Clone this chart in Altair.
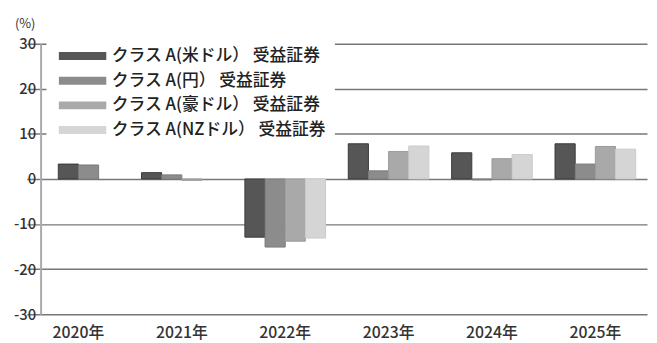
import altair as alt
import pandas as pd

years = ["2020年", "2021年", "2022年", "2023年", "2024年", "2025年"]
series = [
    "クラス A(米ドル） 受益証券",
    "クラス A(円） 受益証券",
    "クラス A(豪ドル） 受益証券",
    "クラス A(NZドル） 受益証券",
]
usd = [3.3, 1.4, -12.9, 7.8, 5.8, 7.8]
jpy = [3.1, 0.9, -15.1, 1.8, -0.2, 3.3]
aud = [None, -0.3, -13.8, 6.1, 4.5, 7.2]
nzd = [None, None, -13.1, 7.3, 5.4, 6.6]

fill_colors = ["#565656", "#8c8c8c", "#a9a9a9", "#d5d5d5"]
stroke_colors = ["#3a3a3a", "#7a7a7a", "#9a9a9a", "#cacaca"]

rows = []
for yi, yr in enumerate(years):
    vals = [usd[yi], jpy[yi], aud[yi], nzd[yi]]
    present = [i for i, v in enumerate(vals) if v is not None]
    shift = (4 - len(present)) // 2 if len(present) == 2 else 0
    for i in present:
        rows.append({"year": yr, "series": series[i], "value": vals[i], "slot": i + shift})
df = pd.DataFrame(rows)

FONT = "Noto Sans CJK JP"

chart = alt.Chart(df).mark_bar(strokeWidth=1).encode(
    x=alt.X(
        "year:N",
        sort=years,
        scale=alt.Scale(range=[-14, 614], paddingInner=0.22, paddingOuter=0.11),
        axis=alt.Axis(title=None, labelAngle=0, ticks=False, domain=False,
                      labelFontSize=16, labelFontWeight=500, labelPadding=11,
                      labelColor="#333", labelFont=FONT),
    ),
    xOffset=alt.XOffset("slot:O", scale=alt.Scale(domain=[0, 1, 2, 3], paddingInner=0, paddingOuter=0)),
    y=alt.Y(
        "value:Q",
        scale=alt.Scale(domain=[-30, 30], nice=False),
        axis=alt.Axis(values=[-30, -20, -10, 0, 10, 20, 30], title=None, ticks=False, grid=True,
                      gridColor="#777", gridWidth=1.5, domainColor="#aaa", domainWidth=2,
                      labelExpr="replace(datum.label, '−', '-')",
                      labelFontSize=15, labelFontWeight=500, labelPadding=5,
                      labelColor="#333", labelFont=FONT),
    ),
    color=alt.Color(
        "series:N",
        scale=alt.Scale(domain=series, range=fill_colors),
        legend=alt.Legend(
            title=None, orient="none", legendX=6, legendY=-4, fillColor="white", padding=8,
            symbolType="M-1,-1H11V1H-1Z", symbolSize=64, symbolStrokeWidth=0, labelOffset=41,
            labelFontSize=17, labelFontWeight=500, labelFont=FONT, labelColor="#222",
            rowPadding=7, labelLimit=400,
        ),
    ),
    stroke=alt.Stroke("series:N", scale=alt.Scale(domain=series, range=stroke_colors), legend=None),
).properties(
    width=616,
    height=274,
    padding={"left": 33, "top": 34, "right": 0, "bottom": 27},
    autosize=alt.AutoSizeParams(type="none"),
    title=alt.TitleParams(text="(%)", anchor="start", frame="group", fontSize=13, fontWeight="normal",
                          dx=-26, offset=6, color="#333", font=FONT),
).configure_view(stroke=None)

chart.save("out.html", embed_options={"renderer": "svg", "actions": False})
